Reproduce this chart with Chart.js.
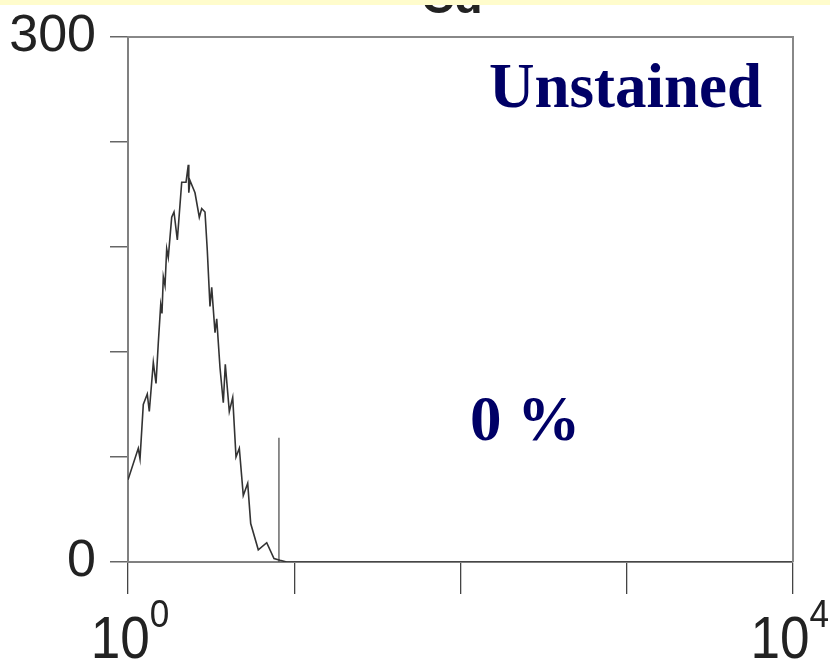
<!DOCTYPE html>
<html>
<head>
<meta charset="utf-8">
<script src="https://cdn.jsdelivr.net/npm/chart.js@4"></script>
<style>
  body { margin: 0; background: #fff; }
  #wrap { width: 830px; height: 663px; }
</style>
</head>
<body>
<div id="wrap"><canvas id="histo" width="830" height="663"></canvas></div>
<script>
// fluorescence channel (log scale) and event counts
const channel = [1.0, 1.153, 1.181, 1.236, 1.306, 1.343, 1.420, 1.474, 1.521, 1.573, 1.601, 1.631, 1.670, 1.709,
  1.747, 1.832, 1.891, 1.980, 2.104, 2.233, 2.305, 2.321, 2.360, 2.529, 2.685, 2.776, 2.905, 2.999, 3.113,
  3.188, 3.337, 3.417, 3.576, 3.743, 3.848, 4.068, 4.264, 4.463, 4.673, 4.937, 5.248, 5.471, 6.077, 6.830,
  7.554, 8.208, 9.008, 10000];
const counts = [47, 65, 59, 90, 96, 86, 114, 102, 125, 147, 142, 163, 158, 179,
  174, 197, 200, 184, 217, 217, 227, 211, 218, 211, 197, 202, 200, 178, 146,
  157, 131, 139, 111, 91, 113, 86, 94, 60, 65, 38, 45, 22, 7, 11,
  2, 1, 0, 0];
// gate marker
const gateX = 8.09;
const gateTop = 71;
// axis ticks
const xDecades = [1, 10, 100, 1000, 10000];
const xLabelExp = ['0', '', '', '', '4'];
const yTickLabels = [0, 300];

const histoPoints = channel.map((c, i) => ({ x: c, y: counts[i] }));

const decor = {
  id: 'decor',
  afterDraw(chart) {
    const ctx = chart.ctx;
    const a = chart.chartArea;
    const xs = chart.scales.x;
    ctx.save();
    // frame top + right
    ctx.strokeStyle = '#888';
    ctx.lineWidth = 2;
    ctx.beginPath();
    ctx.moveTo(a.left, a.top);
    ctx.lineTo(a.right, a.top);
    ctx.lineTo(a.right, a.bottom);
    ctx.stroke();

    // x labels 10^n (slightly condensed)
    const sx = 0.9;
    ctx.fillStyle = '#222';
    ctx.textBaseline = 'alphabetic';
    ctx.textAlign = 'left';
    xDecades.forEach((v, i) => {
      if (!xLabelExp[i]) return;
      const px = xs.getPixelForValue(v);
      ctx.font = '59px "Liberation Sans", Arial, sans-serif';
      const wb = ctx.measureText('10').width * sx;
      ctx.font = '39px "Liberation Sans", Arial, sans-serif';
      const we = ctx.measureText(xLabelExp[i]).width * sx;
      let x0 = px - (wb + we) / 2 + 2;
      if (x0 + wb + we > chart.width - 1) x0 = chart.width - 1 - wb - we;
      ctx.save();
      ctx.translate(x0, 0);
      ctx.scale(sx, 1);
      ctx.font = '59px "Liberation Sans", Arial, sans-serif';
      ctx.fillText('10', 0, 658);
      ctx.font = '39px "Liberation Sans", Arial, sans-serif';
      ctx.fillText(xLabelExp[i], wb / sx, 627);
      ctx.restore();
    });

    // annotations
    ctx.fillStyle = '#000066';
    ctx.font = 'bold 63px "Liberation Serif", "Times New Roman", serif';
    ctx.fillText('Unstained', 489, 107);
    ctx.fillText('0 %', 470, 440);

    // clipped title + yellow band
    ctx.fillStyle = '#222';
    ctx.font = 'bold 46px "Liberation Sans", Arial, sans-serif';
    ctx.textAlign = 'center';
    ctx.fillText('Cd', 452, 13);
    ctx.fillStyle = '#fffccc';
    ctx.fillRect(0, 0, chart.width, 5);
    ctx.restore();
  }
};

new Chart(document.getElementById('histo').getContext('2d'), {
  type: 'line',
  data: {
    datasets: [{
      data: histoPoints,
      borderColor: '#333',
      borderWidth: 1.6,
      pointRadius: 0,
      tension: 0,
      fill: false
    }, {
      data: [{ x: gateX, y: 0 }, { x: gateX, y: gateTop }],
      borderColor: '#444',
      borderWidth: 1.2,
      pointRadius: 0,
      fill: false
    }]
  },
  options: {
    responsive: false,
    animation: false,
    layout: { padding: { top: 37, right: 37, left: 0, bottom: 0 } },
    plugins: {
      legend: { display: false },
      tooltip: { enabled: false }
    },
    scales: {
      x: {
        type: 'logarithmic',
        min: 1,
        max: 10000,
        afterBuildTicks: s => { s.ticks = xDecades.map(v => ({ value: v })); },
        ticks: { callback: () => '', autoSkip: false },
        grid: { drawOnChartArea: false, drawTicks: true, tickLength: 32, color: '#444', lineWidth: 1.3 },
        border: { display: true, color: '#808080', width: 2 },
        afterFit: s => { s.height = 101; s.paddingLeft = 0; s.paddingRight = 0; }
      },
      y: {
        min: 0,
        max: 300,
        ticks: {
          stepSize: 60,
          callback: v => yTickLabels.includes(v) ? String(v) : '',
          font: { family: '"Liberation Sans", Arial, sans-serif', size: 52 },
          color: '#222',
          padding: 14
        },
        grid: { drawOnChartArea: false, drawTicks: true, tickLength: 18, color: '#666', lineWidth: 1.5 },
        border: { display: true, color: '#808080', width: 2 },
        afterFit: s => { s.width = 128; s.paddingTop = 0; s.paddingBottom = 0; }
      }
    }
  },
  plugins: [decor]
});
</script>
</body>
</html>
